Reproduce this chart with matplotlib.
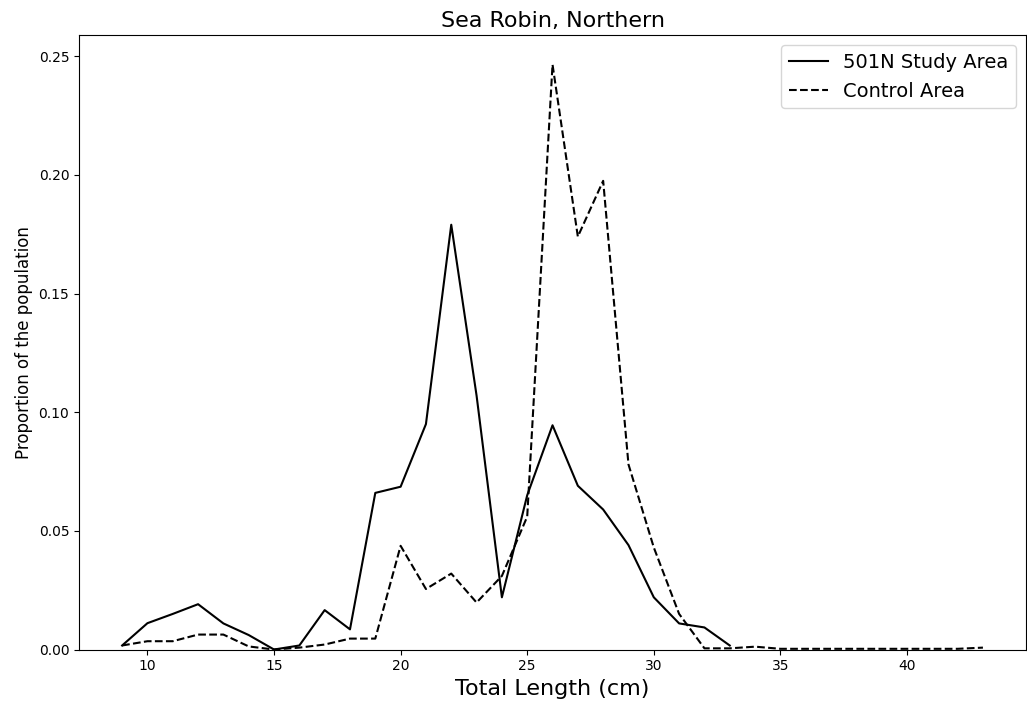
import matplotlib

matplotlib.use("Agg")
import matplotlib.pyplot as plt

# length bins (cm) and proportion of population per bin
study_lengths = list(range(9, 34))
study_props = [
    0.0017, 0.0111, 0.0150, 0.0191, 0.0110, 0.0061, 0.0000, 0.0017, 0.0166, 0.0085,
    0.0660, 0.0686, 0.0950, 0.1790, 0.1070, 0.0220, 0.0650, 0.0945, 0.0690, 0.0590,
    0.0440, 0.0220, 0.0110, 0.0093, 0.0017,
]

control_lengths = list(range(9, 44))
control_props = [
    0.0017, 0.0035, 0.0035, 0.0063, 0.0063, 0.0013, 0.0000, 0.0008, 0.0021, 0.0046,
    0.0046, 0.0437, 0.0255, 0.0320, 0.0198, 0.0310, 0.0560, 0.2465, 0.1740, 0.1975,
    0.0780, 0.0430, 0.0150, 0.0005, 0.0005, 0.0012, 0.0003, 0.0003, 0.0003, 0.0003,
    0.0003, 0.0003, 0.0003, 0.0003, 0.0008,
]

fig, ax = plt.subplots(figsize=(10.27, 7.06), dpi=100)
fig.subplots_adjust(left=0.077, right=0.999, top=0.950, bottom=0.080)

ax.plot(study_lengths, study_props, color="k", linestyle="-", linewidth=1.5, label="501N Study Area")
ax.plot(control_lengths, control_props, color="k", linestyle="--", linewidth=1.5, label="Control Area")

ax.set_ylim(bottom=0.0)
ax.set_title("Sea Robin, Northern", fontsize=16)
ax.set_xlabel("Total Length (cm)", fontsize=16)
ax.set_ylabel("Proportion of the population", fontsize=12)
ax.legend(loc="upper right", fontsize=14)

fig.savefig("out.png", dpi=100)
